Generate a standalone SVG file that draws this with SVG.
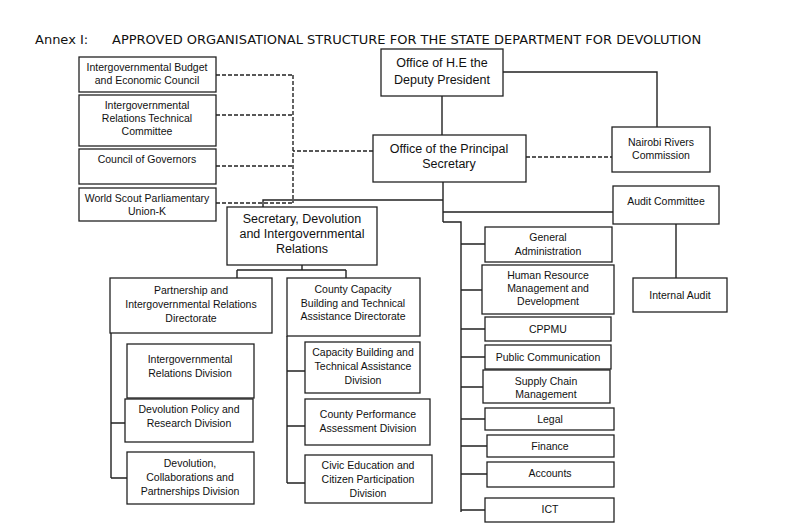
<svg xmlns="http://www.w3.org/2000/svg" width="800" height="527" viewBox="0 0 800 527">
<style>
rect{fill:#fff;stroke:#222;stroke-width:1.3}
text{font-family:"Liberation Sans",Arial,sans-serif;font-size:10.5px;fill:#111;text-anchor:middle}
.big{font-size:12.5px}
.ttl{font-family:"DejaVu Sans",sans-serif;font-size:13px;text-anchor:start}
#c path{fill:none;stroke:#222;stroke-width:1.4}
#c .d{stroke-dasharray:4,2}
</style>
<rect x="0" y="0" width="800" height="527" style="fill:#fff;stroke:none"/>
<text class="ttl" x="35" y="44">Annex I:</text>
<text class="ttl" x="112" y="44">APPROVED ORGANISATIONAL STRUCTURE FOR THE STATE DEPARTMENT FOR DEVOLUTION</text>
<g id="c">
<path d="M442,96V135M503,72H657V127M443,182V222M443,200H263V207M443,212H613M443,222H461V512M461,244H485M461,290H482M461,329H485M461,357H485M461,387H483M461,419H485M461,446H487M461,474H487M461,510H485M676,224V278M302,265V270M237,270H346M237,270V278M346,270V278M111,333V478M111,423H125M111,478H127M287,336V483M287,371H305M287,426H305M287,483H305"/>
<path class="d" d="M373,151H293M293,75V203M216,75H293M216,115H293M216,166H293M216,203H293M526,157H612"/>
</g>
<g id="dp"><rect x="381" y="49" width="122" height="47"/><text class="big" x="442" y="67">Office of H.E the</text><text class="big" x="442" y="84">Deputy President</text></g>
<g id="ps"><rect x="373" y="135" width="153" height="47"/><text class="big" x="449" y="153">Office of the Principal</text><text class="big" x="449" y="168">Secretary</text></g>
<g id="nrc"><rect x="612" y="127" width="98" height="45"/><text x="661" y="146">Nairobi Rivers</text><text x="661" y="159">Commission</text></g>
<g id="ac"><rect x="613" y="186" width="106" height="38"/><text x="666" y="205">Audit Committee</text></g>
<g id="ia"><rect x="633" y="278" width="94" height="34"/><text x="680" y="299">Internal Audit</text></g>
<g id="ibec"><rect x="79" y="57" width="137" height="35"/><text x="147" y="71">Intergovernmental Budget</text><text x="147" y="84">and Economic Council</text></g>
<g id="irtc"><rect x="79" y="95" width="137" height="51"/><text x="147" y="109">Intergovernmental</text><text x="147" y="122">Relations Technical</text><text x="147" y="135">Committee</text></g>
<g id="cog"><rect x="79" y="149" width="137" height="35"/><text x="147" y="163">Council of Governors</text></g>
<g id="wspu"><rect x="79" y="188" width="137" height="33"/><text x="147" y="202">World Scout Parliamentary</text><text x="147" y="215">Union-K</text></g>
<g id="sdir"><rect x="227" y="207" width="150" height="58"/><text class="big" x="302" y="223">Secretary, Devolution</text><text class="big" x="302" y="238">and Intergovernmental</text><text class="big" x="302" y="253">Relations</text></g>
<g id="pird"><rect x="110" y="278" width="162" height="55"/><text x="191" y="294">Partnership and</text><text x="191" y="308">Intergovernmental Relations</text><text x="191" y="322">Directorate</text></g>
<g id="ccb"><rect x="287" y="278" width="133" height="58"/><text x="353" y="293">County Capacity</text><text x="353" y="307">Building and Technical</text><text x="353" y="320">Assistance Directorate</text></g>
<g id="ird"><rect x="127" y="344" width="127" height="54"/><text x="190" y="363">Intergovernmental</text><text x="190" y="377">Relations Division</text></g>
<g id="dprd"><rect x="125" y="399" width="128" height="43"/><text x="189" y="413">Devolution Policy and</text><text x="189" y="427">Research Division</text></g>
<g id="dcpd"><rect x="127" y="452" width="127" height="52"/><text x="190" y="467">Devolution,</text><text x="190" y="481">Collaborations and</text><text x="190" y="495">Partnerships Division</text></g>
<g id="cbta"><rect x="305" y="342" width="115" height="51"/><text x="363" y="356">Capacity Building and</text><text x="363" y="370">Technical Assistance</text><text x="363" y="384">Division</text></g>
<g id="cpad"><rect x="305" y="399" width="125" height="46"/><text x="368" y="418">County Performance</text><text x="368" y="432">Assessment Division</text></g>
<g id="cepd"><rect x="305" y="455" width="127" height="48"/><text x="368" y="469">Civic Education and</text><text x="368" y="483">Citizen Participation</text><text x="368" y="497">Division</text></g>
<g id="ga"><rect x="485" y="227" width="127" height="35"/><text x="548" y="241">General</text><text x="548" y="255">Administration</text></g>
<g id="hr"><rect x="482" y="265" width="132" height="49"/><text x="548" y="279">Human Resource</text><text x="548" y="292">Management and</text><text x="548" y="305">Development</text></g>
<g id="cppmu"><rect x="485" y="317" width="126" height="24"/><text x="548" y="333">CPPMU</text></g>
<g id="pc"><rect x="485" y="345" width="126" height="24"/><text x="548" y="361">Public Communication</text></g>
<g id="scm"><rect x="483" y="370" width="127" height="33"/><text x="546" y="385">Supply Chain</text><text x="546" y="398">Management</text></g>
<g id="legal"><rect x="485" y="408" width="129" height="22"/><text x="550" y="423">Legal</text></g>
<g id="fin"><rect x="487" y="435" width="127" height="22"/><text x="550" y="450">Finance</text></g>
<g id="acc"><rect x="487" y="462" width="127" height="25"/><text x="550" y="477">Accounts</text></g>
<g id="ict"><rect x="485" y="498" width="129" height="24"/><text x="550" y="513">ICT</text></g>
</svg>
